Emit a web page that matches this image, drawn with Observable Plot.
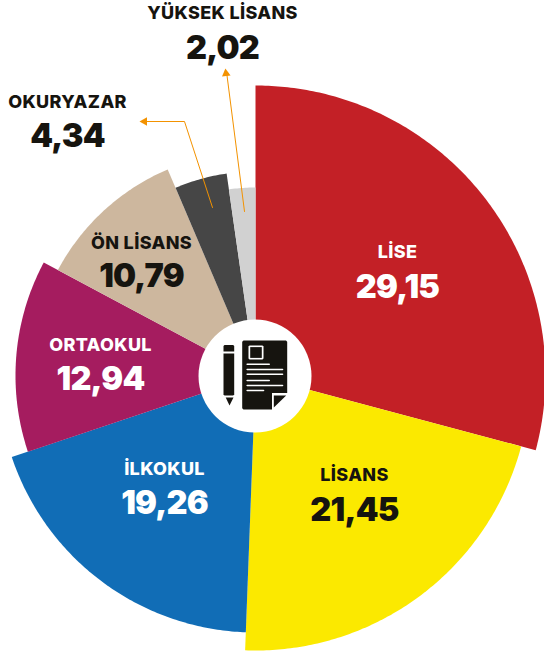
<!DOCTYPE html>
<html><head><meta charset="utf-8">
<style>html,body{margin:0;padding:0;background:#fff;overflow:hidden}svg{display:block}</style>
<script src="https://cdn.jsdelivr.net/npm/d3@7"></script>
<script src="https://cdn.jsdelivr.net/npm/@observablehq/plot@0.6"></script>
</head><body><div id="chart"></div>
<script>
const categories = ["LİSE","LİSANS","İLKOKUL","ORTAOKUL","ÖN LİSANS","OKURYAZAR","YÜKSEK LİSANS"];
const valueLabels = ["29,15","21,45","19,26","12,94","10,79","4,34","2,02"];
// slice shares (the last two are drawn slightly off their printed labels)
const shares = [29.15,21.45,19.26,12.94,10.79,4.15,2.26];
const radii = [290,275,257,240,224,204,188];
const colors = ["#C32026","#FBE900","#116DB6","#A51C5F","#CDB79E","#464646","#D1D1D1"];
const textColors = ["#fff","#16140F","#fff","#fff","#16140F","#16140F","#16140F"];
// label anchor, relative to pie centre
const labelX = [142,99,-91,-155,-114,-188,-33];
const labelY = [-123,100,94,-30,-132,-273,-362];
const numberGap = [35,35,34,34,33,34,35];

const total = d3.sum(shares);
let acc = 0;
const wedges = [];
categories.forEach((name,i)=>{
  const a0 = acc/total*2*Math.PI; acc += shares[i];
  const a1 = acc/total*2*Math.PI;
  const steps = Math.max(8,Math.ceil((a1-a0)*90));
  wedges.push({name,x:0,y:0});
  for(let k=0;k<=steps;k++){
    const a = a0+(a1-a0)*k/steps;
    wedges.push({name,x:radii[i]*Math.sin(a),y:-radii[i]*Math.cos(a)});
  }
});
const labels = categories.map((name,i)=>({name,value:valueLabels[i],x:labelX[i],y:labelY[i],gap:numberGap[i],c:textColors[i]}));

// leader lines
const leaders = [
  {id:"a",pts:[[-11,-164],[-29,-304]]},
  {id:"b",pts:[[-43,-168],[-71,-254],[-113,-254]]}
].flatMap(l=>l.pts.map(([x,y])=>({id:l.id,x,y})));
const heads = [{x:-29.5,y:-302,rotate:-7},{x:-111,y:-254,rotate:-90}];

// icon shapes (relative to centre)
const ink = "#16140F";
const shapes = [
  {id:"e",pts:[[-31,-30.5],[-22.3,-30.5],[-21.3,-29.5],[-21.3,-24],[-32,-24],[-32,-29.5]],f:ink},
  {id:"p",pts:[[-32,-22],[-21.3,-22],[-21.3,19],[-22.3,20],[-31,20],[-32,19]],f:ink},
  {id:"t",pts:[[-29.8,22],[-22,22],[-26,30]],f:ink},
  {id:"d",pts:[[-12,-35],[30.5,-35],[31.7,-33.8],[31.7,17.5],[16.5,17.5],[16.5,34],[-12,34],[-13.3,32.7],[-13.3,-33.7]],f:ink},
  {id:"c",pts:[[-6,-30],[7,-30],[8,-29],[8,-17],[7,-16],[-6,-16],[-7,-17],[-7,-29]],f:"#fff"},
  {id:"i",pts:[[-5.3,-28.4],[6.3,-28.4],[6.3,-17.6],[-5.3,-17.6]],f:ink},
  {id:"g",pts:[[18.3,20],[30.7,20],[18.3,32]],f:ink}
].flatMap(s=>s.pts.map(([x,y])=>({id:s.id,x,y,f:s.f})));
const rowEnd = [13.7,27,27,13.7,27,8];
const rowY = [-11.3,-6,-1.3,5,10,15];
const docLines = rowEnd.map((end,i)=>[{id:i,x:-8.3,y:rowY[i]},{id:i,x:end,y:rowY[i]}]).flat();

const font = "Inter, 'Open Sans', sans-serif";
const plot = Plot.plot({
  width:544,height:652,
  marginTop:0,marginRight:0,marginBottom:0,marginLeft:0,
  x:{domain:[-255,289],range:[0,544],axis:null},
  y:{domain:[-375,277],range:[0,652],axis:null},
  color:{type:"ordinal",domain:categories,range:colors},
  style:{background:"#fff",fontFamily:font},
  marks:[
    Plot.line(wedges,{x:"x",y:"y",z:"name",fill:"name",stroke:"none",curve:"linear"}),
    Plot.dot([{x:-0.5,y:0.5}],{x:"x",y:"y",r:56.5,fill:"#fff"}),
    Plot.line(shapes,{x:"x",y:"y",z:"id",fill:"f",stroke:"none"}),
    Plot.line(docLines,{x:"x",y:"y",z:"id",stroke:"#fff",strokeWidth:1.6}),
    Plot.line(leaders,{x:"x",y:"y",z:"id",stroke:"#F39200",strokeWidth:1}),
    Plot.dot(heads,{x:"x",y:"y",symbol:"triangle",r:3.2,fill:"#F39200",rotate:"rotate"}),
    Plot.text(labels,{x:"x",y:"y",text:"name",fill:"c",fontSize:18,fontWeight:800,textAnchor:"middle",lineAnchor:"middle"}),
    Plot.text(labels,{x:"x",y:d=>d.y+d.gap,text:"value",fill:"c",fontSize:32.5,fontWeight:900,textAnchor:"middle",lineAnchor:"middle"})
  ]
});
plot.querySelectorAll('g[font-size="18"]').forEach(g=>g.style.letterSpacing="0.35px");
plot.querySelectorAll('g[font-size="32.5"]').forEach(g=>g.style.letterSpacing="-0.8px");
document.getElementById("chart").append(plot);
</script></body></html>
